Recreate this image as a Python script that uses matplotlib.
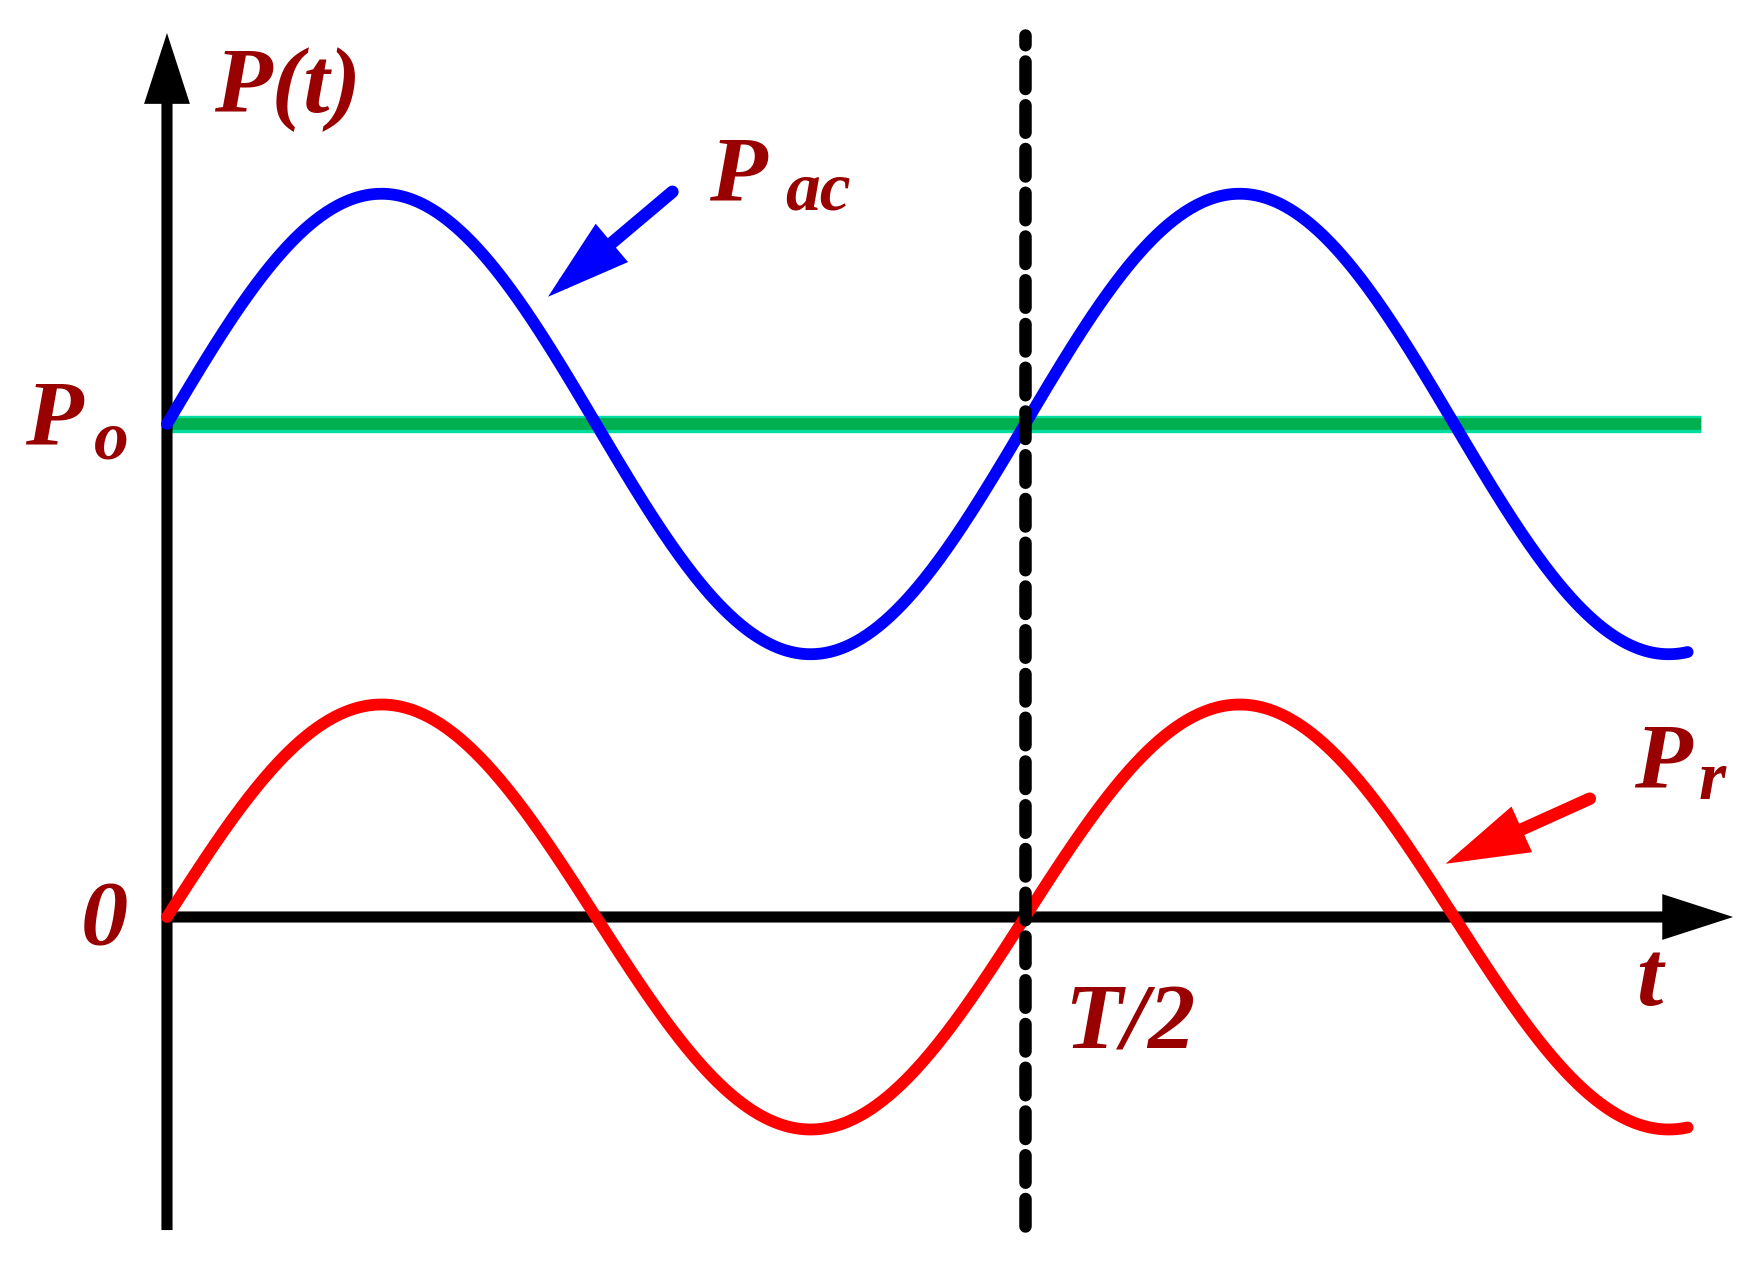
import numpy as np
import matplotlib
matplotlib.use("Agg")
import matplotlib.pyplot as plt

# ---- data (t in units of T/2, power in units of Po) ----
p0_level = 1.0            # Po (constant power)
pac_amp = 0.467           # amplitude of Pac ripple
pr_amp = 0.431            # amplitude of Pr
period = 1.0              # ripple period = T/2
t_end = 1.772             # curves end
green_end = 1.788
half_T = 1.0              # T/2 marker position

labels_main = ["P(t)", "P", "P", "0", "t", "T/2", "P"]
labels_sub = ["ac", "o", "r"]

t = np.linspace(0, t_end, 800)
pac = p0_level + pac_amp * np.sin(2 * np.pi * t / period)
pr = pr_amp * np.sin(2 * np.pi * t / period)

fig = plt.figure(figsize=(17.64, 12.62), dpi=100)
ax = fig.add_axes([0, 0, 1, 1])
ax.set_xlim(-0.1946, 1.861)
ax.set_ylim(-0.6998, 1.860)
ax.axis("off")

txt_color = "#990000"
font = dict(family="Liberation Serif", weight="bold", style="italic", color=txt_color)

# dotted T/2 line
ax.plot([half_T, half_T], [-0.627, 1.789], color="black", lw=9,
        dashes=(2.2, 1.3), solid_capstyle="butt", dash_capstyle="round", zorder=5)

# green Po line
ax.plot([0, green_end], [p0_level, p0_level], color="#00DDA0", lw=12.5, solid_capstyle="butt", zorder=2)
ax.plot([0, green_end], [p0_level, p0_level], color="#00B050", lw=8.5, solid_capstyle="butt", zorder=2)

# axes with arrows
ax_arrow = dict(arrowstyle="-|>,head_length=34,head_width=11", mutation_scale=1,
                color="black", lw=8, shrinkA=0, shrinkB=0, joinstyle="miter", capstyle="butt")
ax.annotate("", xy=(0, 1.793), xytext=(0, -0.635), arrowprops=ax_arrow, zorder=3)
ax.annotate("", xy=(1.825, 0), xytext=(0, 0), arrowprops=ax_arrow, zorder=3)

# curves
ax.plot(t, pac, color="#0000FF", lw=8.5, solid_capstyle="round", zorder=4)
ax.plot(t, pr, color="#FF0000", lw=8.5, solid_capstyle="round", zorder=4)

# pointer arrows
ptr = dict(arrowstyle="-|>,head_length=40,head_width=12", mutation_scale=1,
           lw=9, shrinkA=0, shrinkB=0, joinstyle="miter", capstyle="round")
ax.annotate("", xy=(0.444, 1.258), xytext=(0.589, 1.471),
            arrowprops=dict(color="#0000FF", **ptr), zorder=6)
ax.annotate("", xy=(1.490, 0.108), xytext=(1.658, 0.240),
            arrowprops=dict(color="#FF0000", **ptr), zorder=6)

big = 68
small = 50
ax.text(0.055, 1.632, labels_main[0], fontsize=big, ha="left", va="baseline", **font)
ax.text(0.632, 1.454, labels_main[1], fontsize=big, ha="left", va="baseline", **font)
ax.text(0.720, 1.436, labels_sub[0], fontsize=small, ha="left", va="baseline", **font)
ax.text(-0.165, 0.959, labels_main[2], fontsize=big, ha="left", va="baseline", **font)
ax.text(-0.085, 0.929, labels_sub[1], fontsize=small, ha="left", va="baseline", **font)
ax.text(-0.100, -0.057, labels_main[3], fontsize=big, ha="left", va="baseline", **font)
ax.text(1.712, -0.178, labels_main[4], fontsize=big, ha="left", va="baseline", **font)
ax.text(1.046, -0.267, labels_main[5], fontsize=big, ha="left", va="baseline", **font)
ax.text(1.710, 0.263, labels_main[6], fontsize=big, ha="left", va="baseline", **font)
ax.text(1.785, 0.240, labels_sub[2], fontsize=small, ha="left", va="baseline", **font)

fig.savefig("out.png", dpi=100, facecolor="white")
